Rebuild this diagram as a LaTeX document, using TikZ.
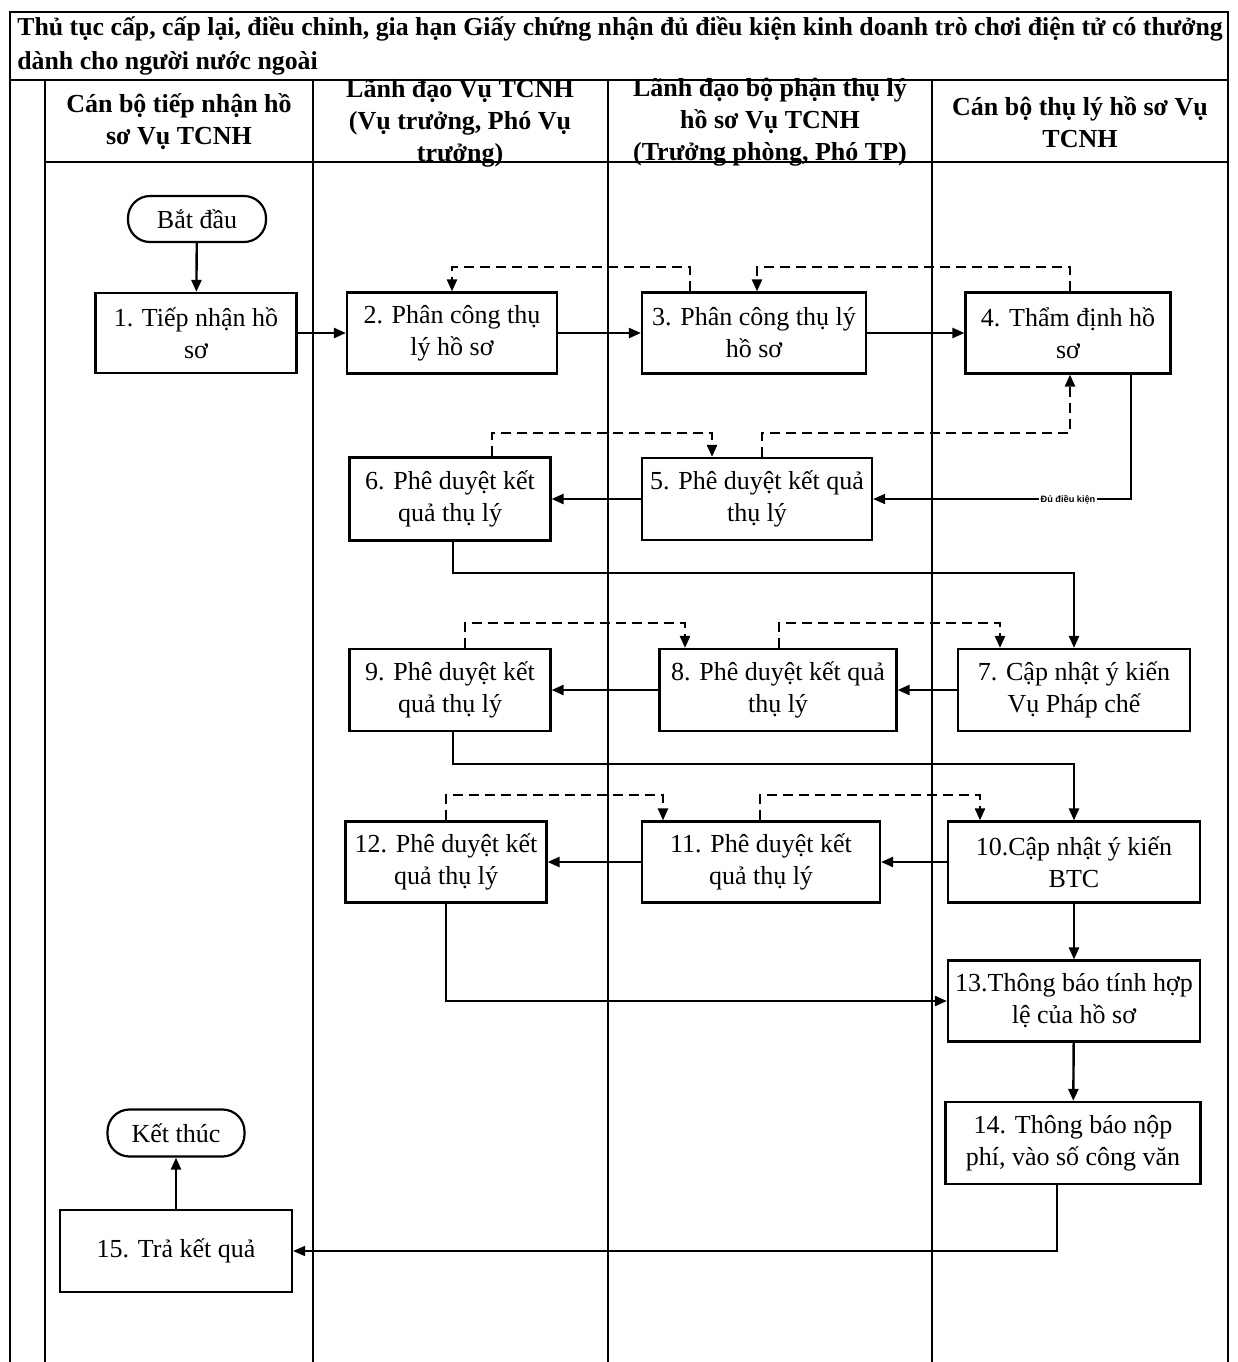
\documentclass[tikz,border=0pt]{standalone}
\usepackage{fontspec}
\setmainfont{Liberation Serif}
\newfontfamily\labelfont{Liberation Sans}
\usetikzlibrary{arrows.meta}
\begin{document}
\begin{tikzpicture}[x=0.5pt,y=-0.5pt,
  lane/.style={line width=1.1pt},
  stepbox/.style={draw, line width=1.1pt, align=center, inner sep=2pt, fill=white,
    font=\fontsize{13}{16}\selectfont},
  terminal/.style={draw, line width=1.1pt, rounded corners=11pt, inner sep=2pt, fill=white,
    font=\fontsize{13}{16}\selectfont},
  flow/.style={line width=1.2pt, -{Triangle[length=6pt,width=5pt]}},
  thinflow/.style={flow, line width=0.8pt},
  back/.style={flow, dash pattern=on 5pt off 3pt},
  head/.style={align=center, font=\bfseries\fontsize{13}{16}\selectfont},
]
\useasboundingbox (0,0) rectangle (1238,1362);

% ---- frame and swimlanes ----
\draw[lane] (10,1362) -- (10,12) -- (1228,12) -- (1228,1362);
\draw[lane] (10,80) -- (1228,80);
\draw[lane] (45,80) -- (45,1362);
\draw[lane] (45,162) -- (1228,162);
\foreach \x in {313,608,932} \draw[lane] (\x,80) -- (\x,1362);

% ---- title ----
\node[anchor=west, inner sep=0pt, font=\bfseries\fontsize{12.9}{17}\selectfont] (title1) at (17,29)
  {Thủ tục cấp, cấp lại, điều chỉnh, gia hạn Giấy chứng nhận đủ điều kiện kinh doanh trò chơi điện tử có thưởng};
\node[anchor=west, inner sep=0pt, font=\bfseries\fontsize{12.9}{17}\selectfont] (title2) at (17,63)
  {dành cho người nước ngoài};

% ---- lane headers ----
\node[head] (h1) at (179,122) {Cán bộ tiếp nhận hồ\\sơ Vụ TCNH};
\node[head] (h2) at (460,123) {Lãnh đạo Vụ TCNH\\(Vụ trưởng, Phó Vụ\\trưởng)};
\node[head] (h3) at (770,122) {Lãnh đạo bộ phận thụ lý\\hồ sơ Vụ TCNH\\(Trưởng phòng, Phó TP)};
\node[head] (h4) at (1080,122) {Cán bộ thụ lý hồ sơ Vụ\\TCNH};

% ---- steps ----
\node[terminal, minimum width=69pt, minimum height=23pt] (start) at (197,219) {Bắt đầu};
\node[stepbox, minimum width=100.5pt, minimum height=40pt] (n1) at (196,333) {1. Tiếp nhận hồ\\sơ};
\node[stepbox, minimum width=105pt, minimum height=40.5pt] (n2) at (452,333) {2. Phân công thụ\\lý hồ sơ};
\node[stepbox, minimum width=112pt, minimum height=40.5pt] (n3) at (754,333) {3. Phân công thụ lý\\hồ sơ};
\node[stepbox, minimum width=102.5pt, minimum height=40.5pt] (n4) at (1068,333) {4. Thẩm định hồ\\sơ};
\node[stepbox, minimum width=115pt, minimum height=41pt] (n5) at (757,499) {5. Phê duyệt kết quả\\thụ lý};
\node[stepbox, minimum width=100.5pt, minimum height=41.5pt] (n6) at (450,499) {6. Phê duyệt kết\\quả thụ lý};
\node[stepbox, minimum width=116pt, minimum height=41pt] (n7) at (1074,690) {7. Cập nhật ý kiến\\Vụ Pháp chế};
\node[stepbox, minimum width=118.5pt, minimum height=41pt] (n8) at (778,690) {8. Phê duyệt kết quả\\thụ lý};
\node[stepbox, minimum width=100.5pt, minimum height=41pt] (n9) at (450,690) {9. Phê duyệt kết\\quả thụ lý};
\node[stepbox, minimum width=126pt, minimum height=40.5pt] (n10) at (1074,862) {10.Cập nhật ý kiến\\BTC};
\node[stepbox, minimum width=119pt, minimum height=40.5pt] (n11) at (761,862) {11. Phê duyệt kết\\quả thụ lý};
\node[stepbox, minimum width=100.5pt, minimum height=40.5pt] (n12) at (446,862) {12. Phê duyệt kết\\quả thụ lý};
\node[stepbox, minimum width=126pt, minimum height=40.5pt] (n13) at (1074,1001) {13.Thông báo tính hợp\\lệ của hồ sơ};
\node[stepbox, minimum width=127.5pt, minimum height=41pt] (n14) at (1073,1143) {14. Thông báo nộp\\phí, vào số công văn};
\node[stepbox, minimum width=116pt, minimum height=41pt] (n15) at (176,1251) {15. Trả kết quả};
\node[terminal, minimum width=68.5pt, minimum height=23.5pt] (stop) at (176,1133) {Kết thúc};

% ---- main flow ----
\draw[flow] (start) -- (n1);
\draw[flow] (n1) -- (n2);
\draw[flow] (n2) -- (n3);
\draw[flow] (n3) -- (n4);
\draw[thinflow] (1131,0 |- n4.south) |- (n5.east);
\node[fill=white, inner sep=0.6pt, font=\labelfont\bfseries\fontsize{4.6}{5}\selectfont] (ok) at (1068,500) {Đủ điều kiện};
\draw[flow] (n5) -- (n6);
\draw[flow] (453,0 |- n6.south) -- (453,573) -| (n7.north);
\draw[flow] (n7) -- (n8);
\draw[flow] (n8) -- (n9);
\draw[flow] (453,0 |- n9.south) -- (453,764) -| (n10.north);
\draw[flow] (n10) -- (n11);
\draw[flow] (n11) -- (n12);
\draw[flow] (n10) -- (n13);
\draw[flow] (n12.south) |- (n13.west);
\draw[flow] (n13) -- (n14);
\draw[thinflow] (1057,0 |- n14.south) |- (n15.east);
\draw[flow] (n15) -- (stop);

% ---- return paths ----
\draw[back] (690,0 |- n3.north) |- (452,267) -- (n2.north);
\draw[back] (1070,0 |- n4.north) |- (757,267) -- (757,0 |- n3.north);
\draw[back] (762,0 |- n5.north) |- (1070,433) -- (1070,0 |- n4.south);
\draw[back] (492,0 |- n6.north) |- (712,433) -- (712,0 |- n5.north);
\draw[back] (779,0 |- n8.north) |- (1000,623) -- (1000,0 |- n7.north);
\draw[back] (465,0 |- n9.north) |- (685,623) -- (685,0 |- n8.north);
\draw[back] (760,0 |- n11.north) |- (980,795) -- (980,0 |- n10.north);
\draw[back] (n12.north) |- (663,795) -- (663,0 |- n11.north);
\end{tikzpicture}
\end{document}
